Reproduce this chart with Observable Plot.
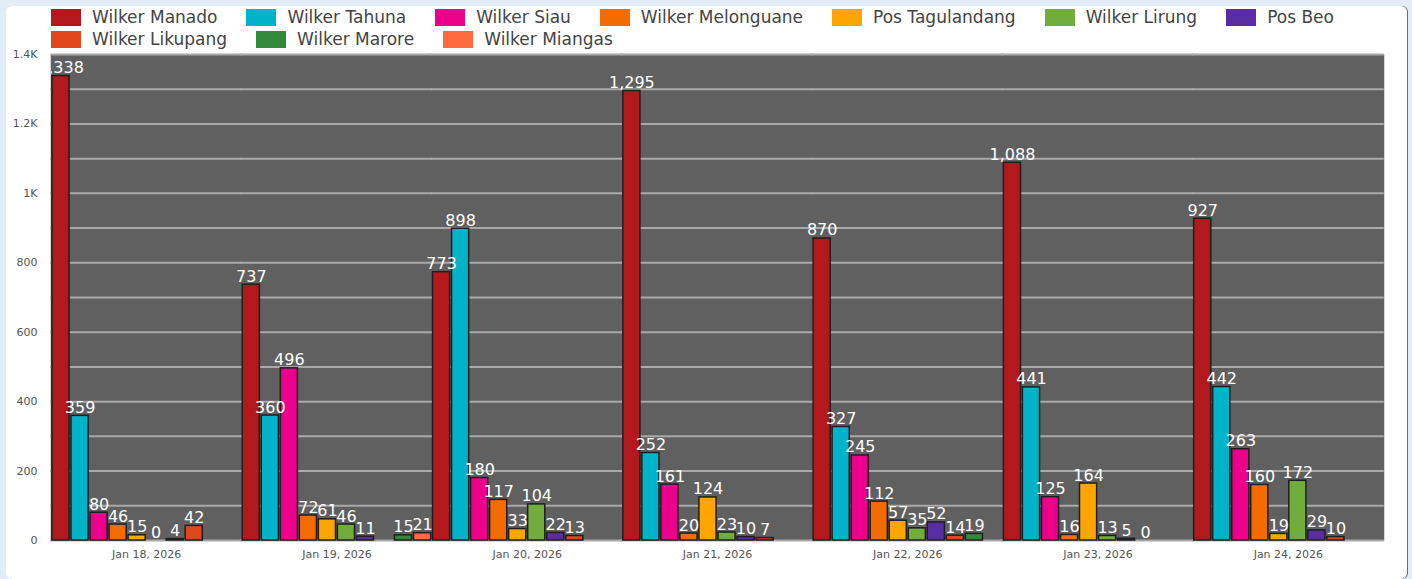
<!DOCTYPE html>
<html>
<head>
<meta charset="utf-8">
<script src="https://cdn.jsdelivr.net/npm/d3@7"></script>
<script src="https://cdn.jsdelivr.net/npm/@observablehq/plot@0.6"></script>
<style>
  html, body { margin: 0; padding: 0; width: 1412px; height: 579px; overflow: hidden;
    background: #e2edf8; font-family: "DejaVu Sans", sans-serif; }
  .card { position: absolute; left: 6px; top: 6px; width: 1401px; height: 573px;
    background: #fff; border-radius: 6px; box-shadow: 1px 0 0 #6a6a6a; }
  #chart { position: absolute; left: 0; top: 0; width: 1412px; }
  .legend { display: flex; flex-wrap: wrap; column-gap: 29px; padding: 6px 0 0 51px;
    width: 1350px; height: 44px; box-sizing: content-box; }
  .item { display: flex; align-items: center; height: 22px; font-size: 17px; color: #444; white-space: nowrap; }
  .sw { width: 30px; height: 17px; margin-right: 11px; }
</style>
</head>
<body>
<div class="card"></div>
<div id="chart"></div>
<script>
// Daily counts per inspection post
const dates = ["Jan 18, 2026", "Jan 19, 2026", "Jan 20, 2026", "Jan 21, 2026", "Jan 22, 2026", "Jan 23, 2026", "Jan 24, 2026"];
const series = ["Wilker Manado", "Wilker Tahuna", "Wilker Siau", "Wilker Melonguane", "Pos Tagulandang",
  "Wilker Lirung", "Pos Beo", "Wilker Likupang", "Wilker Marore", "Wilker Miangas"];
const colors = ["#b3191c", "#00b3c9", "#ec008b", "#f46c00", "#ffa500", "#70ad3c", "#5a2ca3", "#e2461b", "#33893b", "#ff6b3f"];

const manado      = [1338, 737, 773, 1295, 870, 1088, 927];
const tahuna      = [359, 360, 898, 252, 327, 441, 442];
const siau        = [80, 496, 180, 161, 245, 125, 263];
const melonguane  = [46, 72, 117, 20, 112, 16, 160];
const tagulandang = [15, 61, 33, 124, 57, 164, 19];
const lirung      = [0, 46, 104, 23, 35, 13, 172];
const beo         = [4, 11, 22, 10, 52, 5, 29];
const likupang    = [42, null, 13, 7, 14, 0, 10];
const marore      = [null, 15, null, null, 19, null, null];
const miangas     = [null, 21, null, null, null, null, null];

const yTicks = [0, 200, 400, 600, 800, 1000, 1200, 1400];
const yTickLabels = ["0", "200", "400", "600", "800", "1K", "1.2K", "1.4K"];

// Long-format rows; posts with no report on a day are left out
const seriesValues = [manado, tahuna, siau, melonguane, tagulandang, lirung, beo, likupang, marore, miangas];
const rows = [];
seriesValues.forEach((vals, i) => {
  vals.forEach((v, j) => {
    if (v != null) rows.push({date: dates[j], series: series[i], value: v});
  });
});

// Legend
const legend = document.createElement("div");
legend.className = "legend";
series.forEach((s, i) => {
  const item = document.createElement("div");
  item.className = "item";
  const sw = document.createElement("span");
  sw.className = "sw";
  sw.style.background = colors[i];
  item.appendChild(sw);
  item.appendChild(document.createTextNode(s));
  legend.appendChild(item);
});
document.getElementById("chart").appendChild(legend);

const fmt = d3.format(",");
const labelOpts = {fx: "date", x: "series", y: "value", text: d => fmt(d.value), dy: -3,
  lineAnchor: "bottom", fill: "white", fontSize: 16};

const chart = Plot.plot({
  width: 1412,
  height: 529,
  marginTop: 4,
  marginBottom: 39,
  marginLeft: 51,
  marginRight: 29,
  style: {fontFamily: "DejaVu Sans", fontSize: "11px", color: "#555", background: "transparent", overflow: "visible"},
  fx: {domain: dates, padding: 0, round: false, label: null, axis: "bottom", tickSize: 0, tickPadding: 10},
  x: {domain: series, paddingInner: 0.1, paddingOuter: 0.05, round: false, axis: null},
  y: {domain: [0, 1400], ticks: yTicks, tickFormat: d => yTickLabels[yTicks.indexOf(d)], tickSize: 0, tickPadding: 14, label: null},
  color: {domain: series, range: colors},
  marks: [
    Plot.frame({fill: "#606060", insetLeft: -0.75, insetRight: -0.75}),
    Plot.ruleY(d3.ticks(0, 1400, 14), {stroke: "#a9a9a9", strokeWidth: 2, insetLeft: -0.75, insetRight: -0.75}),
    Plot.barY(rows, {fx: "date", x: "series", y: "value", fill: "series", stroke: "#1f1f1f", strokeWidth: 1.5}),
    // the first day's labels are cut at the left edge of the plot area
    Plot.text(rows.filter(d => d.date === dates[0]), {...labelOpts, clip: true}),
    Plot.text(rows.filter(d => d.date !== dates[0]), labelOpts)
  ]
});
document.getElementById("chart").appendChild(chart);
</script>
</body>
</html>
